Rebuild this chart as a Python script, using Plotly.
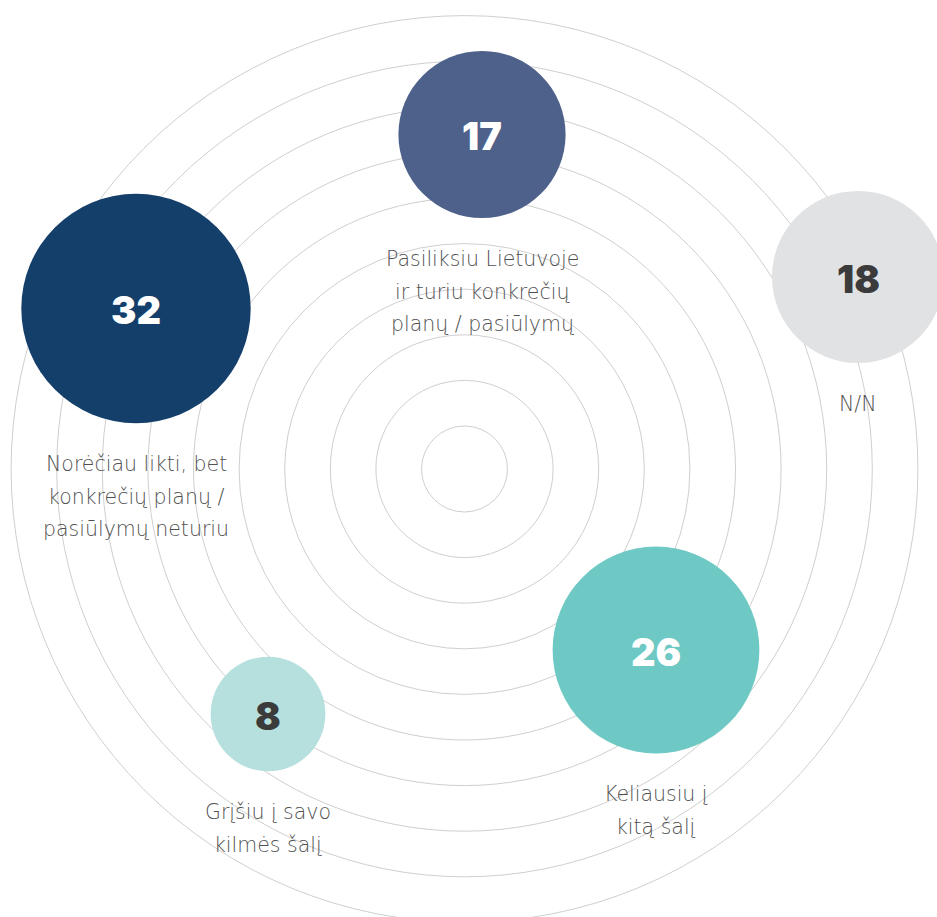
import plotly.graph_objects as go

# Survey answers: share of respondents (%) per answer
values = [32, 17, 18, 26, 8]
answers = [
    ["Norėčiau likti, bet", "konkrečių planų /", "pasiūlymų neturiu"],
    ["Pasiliksiu Lietuvoje", "ir turiu konkrečių", "planų / pasiūlymų"],
    ["N/N"],
    ["Keliausiu į", "kitą šalį"],
    ["Grįšiu į savo", "kilmės šalį"],
]

# Layout of the bubbles on the canvas (pixel-like coordinates)
bubble_x = [136, 482, 858, 656, 268]
bubble_y = [308.5, 134.5, 277, 650, 714]
bubble_colors = ["#143f6b", "#4e618b", "#e1e2e4", "#6ec9c4", "#b5e0de"]
number_colors = ["#ffffff", "#ffffff", "#3b3b3b", "#ffffff", "#3b3b3b"]

W, H = 937, 917
cx, cy = 464.5, 469
ring_r0, ring_step, ring_count = 43, 45.6, 10
radius_per_sqrt = 114.7 / (32 ** 0.5)

fig = go.Figure()

# Concentric background rings
for k in range(ring_count):
    r = ring_r0 + k * ring_step
    fig.add_shape(type="circle", xref="x", yref="y",
                  x0=cx - r, x1=cx + r, y0=cy - r, y1=cy + r,
                  line=dict(color="#cfcfcf", width=1), layer="below")

# Bubbles sized by area
sizeref = 1 / (2 * radius_per_sqrt ** 2)
fig.add_trace(go.Scatter(
    x=bubble_x, y=bubble_y, mode="markers",
    marker=dict(size=values, sizemode="area", sizeref=sizeref,
                color=bubble_colors, line=dict(width=0), opacity=1),
    hoverinfo="skip", cliponaxis=True,
))

# Value inside each bubble
for x, y, v, c in zip(bubble_x, bubble_y, values, number_colors):
    fig.add_annotation(x=x, y=y, text=str(v), showarrow=False,
                       xanchor="center", yanchor="middle", yshift=-1.5,
                       font=dict(family="Inter", size=38, color=c, weight=900))

# Answer labels under each bubble
line_gap = 32.5
for x, y, v, lines in zip(bubble_x, bubble_y, values, answers):
    r = radius_per_sqrt * v ** 0.5
    top = y + r + 41
    for i, line in enumerate(lines):
        fig.add_annotation(x=x, y=top + i * line_gap, text=line,
                           showarrow=False, xanchor="center", yanchor="middle",
                           font=dict(family="DejaVu Sans", size=20.5, color="#505050", weight=200))

fig.update_layout(
    width=W, height=H,
    margin=dict(l=0, r=0, t=0, b=0),
    paper_bgcolor="white", plot_bgcolor="white",
    showlegend=False,
    xaxis=dict(range=[0, W], visible=False, fixedrange=True),
    yaxis=dict(range=[H, 0], visible=False, fixedrange=True),
)

fig.write_html("out.html")
